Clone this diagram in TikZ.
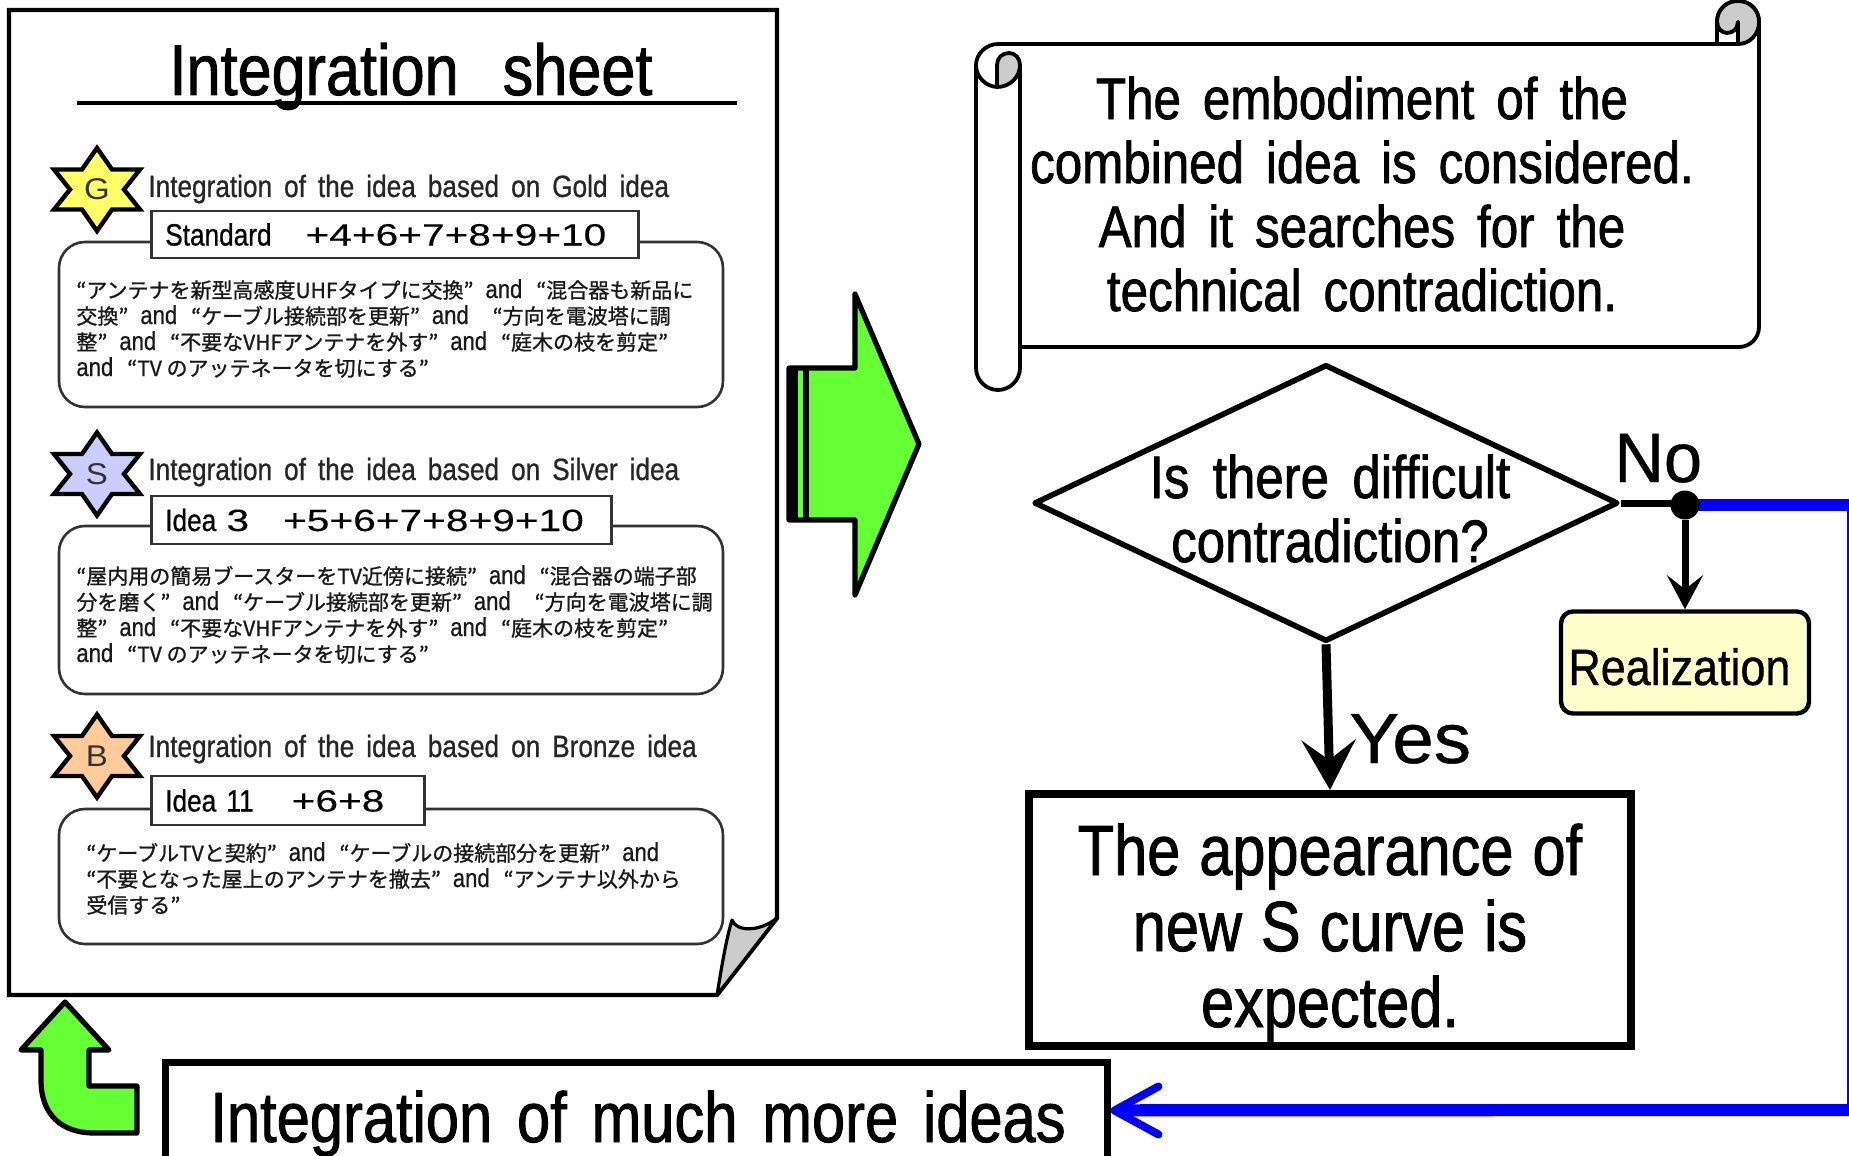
\documentclass[tikz,border=0pt]{standalone}
\usepackage{fontspec}
\usetikzlibrary{shapes.geometric,arrows.meta}
\setmainfont{Liberation Sans}
\newfontfamily\smallf{Liberation Sans}[FakeStretch=0.85,WordSpace=1.65,FakeBold=0.7]
\newfontfamily\titlef{Liberation Sans}[FakeStretch=0.85,WordSpace=1.65,FakeBold=1.2]
\newfontfamily\condf{Liberation Sans}[FakeStretch=0.84,WordSpace=1.5,FakeBold=1.2]
\newfontfamily\condh{Liberation Sans}[FakeStretch=0.842,WordSpace=1.6,FakeBold=1.2]
\newfontfamily\condg{Liberation Sans}[FakeStretch=0.838,WordSpace=1.15,FakeBold=1.2]
\newfontfamily\realf{Liberation Sans}[FakeStretch=0.88,FakeBold=0.8]
\newfontfamily\nof{Liberation Sans}[FakeStretch=0.98,FakeBold=0.6]
\newfontfamily\yesf{Liberation Sans}[FakeStretch=1.05,FakeBold=0.6]
\newfontfamily\widef{Liberation Sans}[FakeStretch=1.32,FakeBold=0.3]
\newfontfamily\letterf{Liberation Sans}[FakeStretch=1.1]
\newfontfamily\cjkf{Noto Sans CJK JP}[FakeBold=1]
\definecolor{arrowgreen}{HTML}{66FF33}
\definecolor{foldgrey}{HTML}{CCCCCC}
\definecolor{softyellow}{HTML}{FFFFCC}
\definecolor{goldstar}{HTML}{FFFF66}
\definecolor{silverstar}{HTML}{CCCCFF}
\definecolor{bronzestar}{HTML}{FFCC99}
\newcommand{\hexstar}[5]{%
  \draw[starline,fill=#3,shift={(#1,#2)}] (0,-41.5)--(15,-20)--(43,-20)--(27,0)--(43,20)--(15,20)--(0,41.5)--(-15,20)--(-43,20)--(-27,0)--(-43,-20)--(-15,-20)--cycle;
  \node[starletter] (#5) at (#1,#2) {#4};}
\newcommand{\aand}{\hspace{6pt}{\smallf\fontsize{13}{13}\selectfont and}\hspace{7pt}}
\newcommand{\headf}{\smallf\fontsize{15.4}{18}\selectfont}
\newcommand{\numf}{\widef\fontsize{15.4}{18}\selectfont}
\tikzset{
  x=0.5pt,y=-0.5pt,
  pageline/.style={draw=black,line width=2.2pt,line join=miter},
  starline/.style={draw=black,line width=2.2pt,line join=miter},
  starletter/.style={font=\letterf\fontsize{15}{15}\selectfont,text=black!80,inner sep=0pt},
  greenarrow/.style={draw=black,fill=arrowgreen,line width=2.6pt,line join=round},
  scrollline/.style={draw=black,line width=1.9pt,line join=round},
  bubble/.style={draw=black!80,line width=1.3pt,rounded corners=13pt,fill=white,inner sep=0pt},
  tagbox/.style={draw=black!80,line width=1.3pt,fill=white,anchor=west,align=left,inner xsep=7pt,inner ysep=0pt,font=\headf},
  heading/.style={anchor=base west,inner sep=0pt,font=\headf,text=black!85},
  body/.style={anchor=base west,inner sep=0pt,align=left,font=\cjkf\fontsize{10.5}{13}\selectfont,text=black!90},
  blackbox/.style={draw=black,line width=4pt,fill=white,inner sep=0pt},
}
\begin{document}
\begin{tikzpicture}
\useasboundingbox (0,0) rectangle (1849,1156);
\clip (0,0) rectangle (1849,1156);
\fill[white] (0,0) rectangle (1849,1156);

% sheet
\draw[pageline,fill=white] (9,10) -- (777,10) -- (777,918) -- (717,995) -- (9,995) -- cycle;
\draw[pageline,line width=1.6pt,fill=foldgrey,line join=round] (717,995) .. controls (722,965) and (726,940) .. (732,920) .. controls (736,932) and (760,932) .. (777,918) -- cycle;
\node[anchor=base,inner sep=0pt,font=\titlef\fontsize{36}{40}\selectfont] (title) at (411,95) {Integration\hspace{8pt} sheet};
\coordinate (ruleL) at (77,103);
\coordinate (ruleR) at (737,103);
\draw[line width=2pt] (ruleL) -- (ruleR);

% gold
\hexstar{97}{189.5}{goldstar}{G}{starG}
\node[heading] (headG) at (148,197) {Integration of the idea based on Gold idea};
\node[bubble,minimum width=332pt,minimum height=82.5pt] (bubG) at (391,324.5) {};
\node[tagbox,text width=229.5pt,minimum height=23.5pt] (tagG) at (150,234.5) {\mbox{{\smallf Standard}\hspace{17pt}{\numf +4+6+7+8+9+10}}};
\node[body] (bodyG) at (76,376) {“アンテナを新型高感度UHFタイプに交換”\aand“混合器も新品に\\交換”\aand“ケーブル接続部を更新”\aand\hspace{5pt}“方向を電波塔に調\\整”\aand“不要なVHFアンテナを外す”\aand“庭木の枝を剪定”\\{\smallf\fontsize{13}{13}\selectfont and}\hspace{7pt}“TV のアッテネータを切にする”};

% silver
\hexstar{97}{474}{silverstar}{S}{starS}
\node[heading] (headS) at (148,480) {Integration of the idea based on Silver idea};
\node[bubble,minimum width=332pt,minimum height=84pt] (bubS) at (391,610) {};
\node[tagbox,text width=216pt,minimum height=24pt] (tagS) at (150,520) {\mbox{{\smallf Idea} {\numf 3}\hspace{17pt}{\numf +5+6+7+8+9+10}}};
\node[body] (bodyS) at (76,662) {“屋内用の簡易ブースターをTV近傍に接続”\aand“混合器の端子部\\分を磨く”\aand“ケーブル接続部を更新”\aand\hspace{5pt}“方向を電波塔に調\\整”\aand“不要なVHFアンテナを外す”\aand“庭木の枝を剪定”\\{\smallf\fontsize{13}{13}\selectfont and}\hspace{7pt}“TV のアッテネータを切にする”};

% bronze
\hexstar{97}{756}{bronzestar}{B}{starB}
\node[heading] (headB) at (148,757) {Integration of the idea based on Bronze idea};
\node[bubble,minimum width=332pt,minimum height=67.5pt] (bubB) at (391,876.5) {};
\node[tagbox,text width=122.5pt,minimum height=24.5pt] (tagB) at (150,800.5) {\mbox{{\smallf Idea 11}\hspace{19pt}{\numf +6+8}}};
\node[body] (bodyB) at (86,913) {“ケーブルTVと契約”\aand“ケーブルの接続部分を更新”\aand\\“不要となった屋上のアンテナを撤去”\aand“アンテナ以外から\\受信する”};

% big arrow
\draw[greenarrow] (789,368) -- (855,368) -- (855,294) -- (919,444) -- (855,595) -- (855,520) -- (789,520) -- cycle;
\foreach \bx/\bw in {790/3,795/2.5,806/3.3}{\draw[line width=\bw pt] (\bx,368) -- (\bx,520);}
\draw[line width=1.2pt] (798.5,368) -- (804,368) (798.5,520) -- (804,520);

% scroll
\draw[scrollline,fill=white] (1020,347) -- (1739,347) .. controls (1750,347) and (1759,338) .. (1759,327) -- (1759,22) .. controls (1759,10) and (1750,1) .. (1738,1) .. controls (1726,1) and (1717,10) .. (1717,22) -- (1717,44) -- (998,44) .. controls (986,44) and (976,54) .. (976,65) -- (976,368) .. controls (976,380) and (986,390) .. (998,390) .. controls (1010,390) and (1020,380) .. (1020,368) -- cycle;
\draw[scrollline] (1020,65) -- (1020,368);
\draw[scrollline,fill=foldgrey] (1717,22) .. controls (1717,10) and (1726,1) .. (1738,1) .. controls (1750,1) and (1759,10) .. (1759,22) .. controls (1759,34) and (1750,44) .. (1738,44) -- (1738,22) .. controls (1738,29) and (1733,33) .. (1727,33) .. controls (1722,33) and (1717,29) .. (1717,22) -- cycle;
\draw[scrollline,fill=white] (1738,44) -- (1717,44) -- (1717,22) .. controls (1717,29) and (1722,33) .. (1727,33) .. controls (1733,33) and (1738,29) .. (1738,22) -- cycle;
\draw[scrollline] (976,65) .. controls (976,77) and (986,87) .. (998,87);
\draw[scrollline,fill=foldgrey] (997,87) .. controls (1010,87) and (1020,77) .. (1020,65) .. controls (1020,58) and (1015,53) .. (1009,53) .. controls (1002,53) and (997,58) .. (997,65) -- cycle;
\node[anchor=base,inner sep=0pt,align=center,font=\condh\fontsize{29.3}{32}\selectfont] (scrollT) at (1362,311) {The embodiment of the\\combined idea is considered.\\And it searches for the\\technical contradiction.};

% decision
\node[draw=black,line width=2.8pt,line join=round,shape=diamond,shape aspect=2.1,inner sep=0pt,minimum width=292pt,minimum height=138.5pt] (dec) at (1326,503) {};
\node[anchor=base,inner sep=0pt,align=center,font=\titlef\fontsize{30}{32}\selectfont] (decT) at (1330,562) {Is there difficult\\contradiction?};
\node[anchor=base west,inner sep=0pt,font=\nof\fontsize{35}{35}\selectfont] (noL) at (1614,482) {No};
\node[anchor=base west,inner sep=0pt,font=\yesf\fontsize{35.5}{35.5}\selectfont] (yesL) at (1349,763) {Yes};

% S curve box
\node[blackbox,minimum width=301pt,minimum height=126pt] (scurve) at (1330,920) {};
\node[anchor=base,inner sep=0pt,align=center,font=\condg\fontsize{35.5}{38}\selectfont] (scurveT) at (1330,1027) {The appearance of\\new S curve is\\expected.};

% realization
\node[draw=black,line width=2.2pt,fill=softyellow,rounded corners=6pt,inner sep=0pt,minimum width=124pt,minimum height=51pt] (real) at (1685,662.5) {};
\node[anchor=base west,inner sep=0pt,font=\realf\fontsize{25.5}{25.5}\selectfont] (realT) at (1568,685) {Realization};

% integration box
\node[blackbox,line width=3.5pt,minimum width=471pt,minimum height=48.5pt] (intg) at (636,1110.5) {};
\node[anchor=base west,inner sep=0pt,font=\condf\fontsize{35.5}{38}\selectfont] (intgT) at (210,1142) {Integration of much more ideas};

% connectors
\coordinate (dotc) at (1685,505);
\coordinate (c1) at (1853,505);
\coordinate (c2) at (1853,1110);
\draw[draw=blue,line width=6pt] (dotc) -- (c1) -- (c2) -- (1140,1110);
\draw[draw=blue,line width=6pt,-{Straight Barb[round,line width=4pt,length=22pt,width=24pt]}] (c2) -- (intg.east);
\node[circle,fill=black,inner sep=0pt,minimum size=14.5pt] (dot) at (dotc) {};
\draw[line width=3.5pt] (dec.east) -- (dec.east -| dot);
\draw[line width=3.5pt,-{Stealth[length=17pt,width=18pt,inset=7pt]}] (dot.south) -- (real.north);
\draw[line width=4.5pt,-{Stealth[length=25pt,width=27pt,inset=10pt]}] (dec.south) -- (scurve.north);

% bent arrow
\draw[greenarrow] (65,1002) -- (109,1050) -- (89,1050) -- (89,1086) -- (137,1086) -- (137,1133) -- (94,1133) .. controls (62,1133) and (41,1115) .. (41,1080) -- (41,1050) -- (21,1050) -- cycle;
\end{tikzpicture}
\end{document}
